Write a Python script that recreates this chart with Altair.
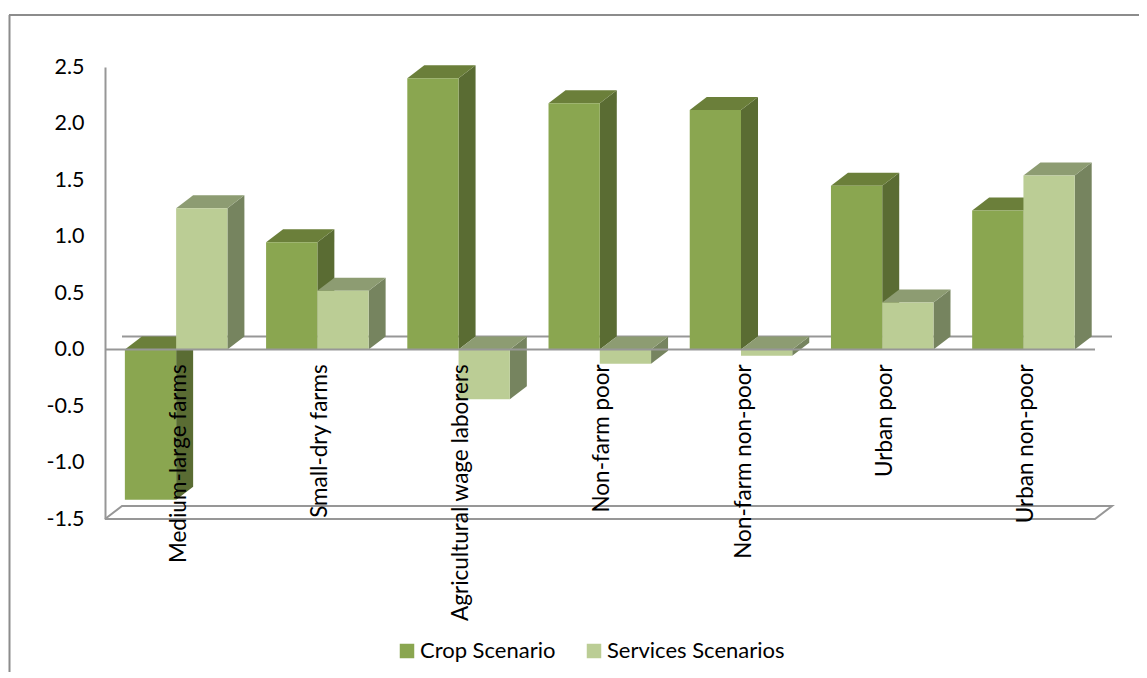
import altair as alt
import pandas as pd

categories = ["Medium-large farms", "Small-dry farms", "Agricultural wage laborers",
              "Non-farm poor", "Non-farm non-poor", "Urban poor", "Urban non-poor"]
crop_values = [-1.33, 0.95, 2.40, 2.18, 2.12, 1.45, 1.23]
services_values = [1.25, 0.52, -0.44, -0.125, -0.055, 0.415, 1.54]
series_names = ["Crop Scenario", "Services Scenarios"]
tick_values = [-1.5, -1.0, -0.5, 0.0, 0.5, 1.0, 1.5, 2.0, 2.5]

FONT = "Lato"
GREY = "#979797"
FRONT = ["#8aa650", "#bbcd95"]
TOP = ["#6b7f3a", "#8d9c72"]
SIDE = ["#5a6c33", "#76845f"]

STEP = 0.9985
BAR_W = 0.3625
GAP = 0.1405
DX = 0.1202
DY = 0.115

x_scale = alt.Scale(domain=[0, 7], nice=False, zero=False)
y_scale = alt.Scale(domain=[-1.5, 2.5], nice=False, zero=False)
X = alt.X("x:Q", scale=x_scale, axis=None)
Y = alt.Y("y:Q", scale=y_scale, axis=alt.Axis(
    values=tick_values, title=None, grid=False, ticks=False,
    domainColor=GREY, domainWidth=2, labelFont=FONT, labelFontSize=21.5,
    labelColor="black", labelPadding=21,
    labelExpr="replace(format(datum.value, '.1f'), '\u2212', '-')"))


def faces(values, series):
    front, top, side = [], [], []
    for i, v in enumerate(values):
        x0 = i * STEP + GAP + series * BAR_W
        x1 = x0 + BAR_W
        hi, lo = max(v, 0), min(v, 0)
        front.append({"x": x0, "x2": x1, "y": lo, "y2": hi, "s": series_names[series]})
        top.append({"b": i, "y": hi, "x": x0, "x2": x1})
        top.append({"b": i, "y": hi + DY, "x": x0 + DX, "x2": x1 + DX})
        side.append({"b": i, "x": x1, "y": lo, "y2": hi})
        side.append({"b": i, "x": x1 + DX, "y": lo + DY, "y2": hi + DY})
    return pd.DataFrame(front), pd.DataFrame(top), pd.DataFrame(side)


def bar_layers(values, series):
    f, t, s = faces(values, series)
    return [
        alt.Chart(s).mark_area(color=SIDE[series], interpolate="linear").encode(
            x=X, y=Y, y2="y2:Q", detail="b:N"),
        alt.Chart(t).mark_area(color=TOP[series], orient="horizontal", interpolate="linear").encode(
            x=X, x2="x2:Q", y=Y, detail="b:N"),
        alt.Chart(f).mark_rect().encode(
            x=X, x2="x2:Q", y=Y, y2="y2:Q",
            color=alt.Color("s:N", title=None,
                            scale=alt.Scale(domain=series_names, range=FRONT),
                            legend=alt.Legend(
                                orient="none", direction="horizontal",
                                legendX=291, legendY=573,
                                symbolType="square", symbolSize=210, symbolStrokeWidth=0,
                                labelFont=FONT, labelFontSize=22, labelColor="black",
                                labelLimit=300,
                                columnPadding=27, labelOffset=2))),
    ]


def line_layer(xs, ys):
    d = pd.DataFrame({"x": xs, "y": ys, "o": range(len(xs))})
    return alt.Chart(d).mark_line(color=GREY, strokeWidth=2).encode(x=X, y=Y, order="o:Q")


floor = line_layer([0, DX, 7 + DX, 7, 0], [-1.5, -1.5 + DY, -1.5 + DY, -1.5, -1.5])
zero_back = line_layer([DX, 7 + DX], [DY, DY])
zero_front = line_layer([0, 7], [0, 0])

label_df = pd.DataFrame({"x": [i * STEP + 0.522 for i in range(len(categories))],
                         "y": [-0.13] * len(categories), "t": categories})
labels = alt.Chart(label_df).mark_text(
    angle=270, align="right", baseline="middle", font=FONT, fontSize=22.5, color="black"
).encode(x=X, y=Y, text="t:N")

frame_left = alt.Chart(pd.DataFrame({"a": [0]})).mark_rule(color="#8c8c8c", strokeWidth=2).encode(
    x=alt.value(-95.5), y=alt.value(-52), y2=alt.value(612))
frame_top = alt.Chart(pd.DataFrame({"a": [0]})).mark_rule(color="#8c8c8c", strokeWidth=2).encode(
    x=alt.value(-96), x2=alt.value(1042), y=alt.value(-52))

chart = alt.layer(
    frame_left, frame_top, floor, zero_back,
    *bar_layers(crop_values, 0),
    *bar_layers(services_values, 1),
    zero_front, labels,
).resolve_scale(color="shared").properties(
    width=990, height=452,
    autosize=alt.AutoSizeParams(type="none"),
    padding={"left": 97, "top": 59, "right": 44, "bottom": 153},
).configure_view(stroke=None)

chart.save("out.html", embed_options={"renderer": "svg", "actions": False})
